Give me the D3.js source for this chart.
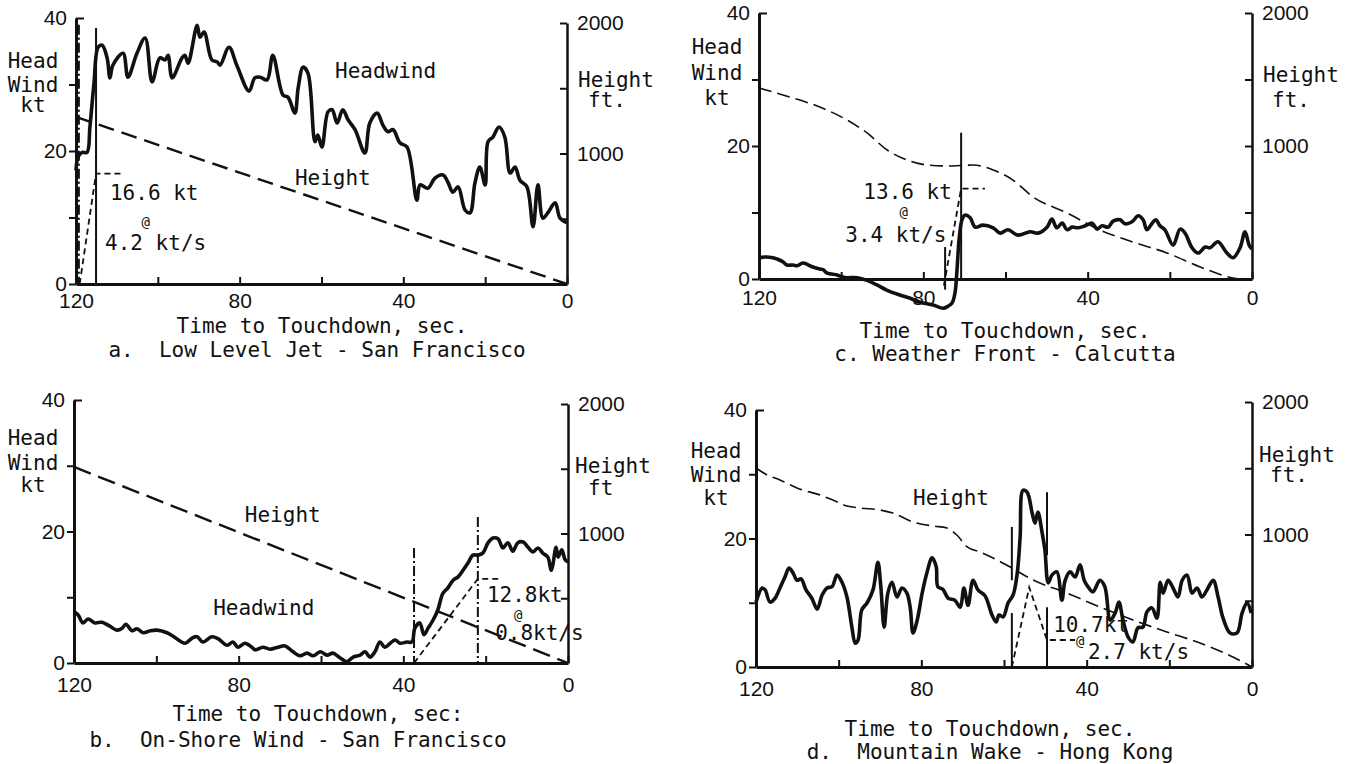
<!DOCTYPE html>
<html>
<head>
<meta charset="utf-8">
<script src="https://cdn.jsdelivr.net/npm/d3@7"></script>
<style>
    body { margin: 0; background: #fff; }
    svg { display: block; font-family: "DejaVu Sans Mono", monospace; }
    text { fill: #111; font-size: 21px; }
    text.at { font-size: 14px; }
    .axis path, .axis line { stroke: #111; }
    .axis path { stroke-width: 3; }
    .axis line { stroke-width: 2; }
</style>
</head>
<body>
<svg id="chart" width="1349" height="764"></svg>
<script>
// Wind shear cases: headwind (kt) and height (ft) against time to touchdown.

const X_TICKS = [120, 100, 80, 60, 40, 20, 0];
const X_LABELS = [120, 80, 40, 0];
const KT_TICKS = [0, 10, 20, 30, 40];
const KT_LABELS = [0, 20, 40];
const FT_TICKS = [0, 500, 1000, 1500, 2000];
const FT_LABELS = [1000, 2000];

// a. Low Level Jet - San Francisco
const aWindT = [120, 119.5, 118.5, 117.3, 116.6, 115.6, 114.6, 113.6, 112.4, 111.7, 111.0, 108.5, 107.3, 105.1, 103.1, 101.4, 99.5, 98.2, 97.5, 96.5, 94.1, 93.4, 92.6, 90.4, 89.7, 88.7, 86.8, 85.5, 84.8, 82.6, 80.7, 77.7, 76.3, 75.0, 73.3, 71.9, 69.4, 68.2, 66.5, 65.7, 64.5, 63.3, 61.6, 60.9, 59.9, 58.4, 57.4, 56.2, 54.8, 53.5, 51.8, 49.4, 48.2, 46.4, 45.0, 43.8, 42.5, 40.8, 39.1, 36.7, 35.9, 34.0, 32.3, 30.3, 29.1, 27.9, 26.6, 24.9, 23.7, 22.5, 21.3, 20.0, 19.3, 18.1, 16.6, 15.2, 13.9, 12.7, 11.5, 9.8, 8.3, 7.1, 5.9, 4.7, 2.9, 1.7, 0];
const aWindKt = [17.1, 19.1, 19.8, 19.8, 23.6, 30.2, 35.6, 35.9, 34.0, 31.0, 32.9, 34.7, 31.1, 34.7, 37.0, 30.4, 34.0, 33.7, 34.4, 31.0, 34.0, 34.4, 33.2, 38.9, 37.1, 37.9, 33.7, 33.4, 32.9, 35.6, 32.9, 29.0, 31.0, 31.1, 30.7, 34.4, 28.4, 28.1, 25.7, 29.5, 32.6, 31.7, 21.4, 22.4, 20.6, 25.9, 26.2, 24.2, 26.2, 24.7, 23.2, 19.7, 24.2, 25.7, 23.9, 22.9, 23.2, 21.2, 20.6, 12.6, 14.9, 14.4, 15.9, 16.4, 15.3, 13.8, 14.6, 11.1, 10.7, 15.2, 17.6, 14.9, 21.4, 22.1, 23.6, 22.1, 16.7, 17.6, 15.6, 14.6, 8.6, 14.9, 9.9, 10.7, 12.2, 9.9, 9.2];
const aHeightT = [120, 0];
const aHeightFt = [1280, 0];
const aMarkT = [119.3, 115.1];
const aMarkTop = [39, 38.5];
const aMarkBot = [0, 0];
const aRampT = [119.1, 115.1, 109];
const aRampKt = [0, 16.6, 16.6];
const aNotes = ["16.6 kt", "@", "4.2 kt/s", "Headwind", "Height"];
const aNoteT = [111.7, 104.0, 112.9, 56.7, 66.5];
const aNoteKt = [12.6, 8.6, 5.1, 31, 14.9];

// b. On-Shore Wind - San Francisco
const bWindT = [120, 119.0, 117.8, 116.6, 114.9, 113.2, 111.3, 109.6, 108.3, 107.4, 105.9, 104.7, 103.2, 101.5, 99.8, 97.4, 96.0, 93.0, 91.3, 90.1, 88.7, 86.5, 85.0, 82.8, 81.4, 80.2, 78.5, 76.8, 76.0, 74.1, 72.4, 70.4, 68.7, 66.8, 65.1, 63.4, 61.9, 60.2, 58.5, 57.1, 55.4, 53.7, 52.2, 50.5, 49.3, 48.1, 46.9, 45.7, 44.5, 43.2, 42.0, 40.8, 39.1, 37.9, 37.2, 36.0, 35.0, 34.0, 32.8, 31.6, 30.4, 29.2, 27.9, 26.7, 25.5, 24.3, 23.1, 21.9, 20.7, 19.4, 18.2, 17.0, 15.8, 14.6, 13.4, 12.2, 10.9, 9.7, 8.5, 7.3, 6.1, 4.9, 4.1, 3.7, 2.9, 2.4, 1.5, 0.7, 0];
const bWindKt = [7.8, 7.3, 6.1, 6.7, 6.1, 6.2, 5.6, 5.0, 5.3, 5.9, 4.9, 5.2, 4.6, 4.9, 5.0, 4.6, 4.1, 3.0, 3.8, 4.0, 3.2, 4.0, 3.7, 2.7, 3.2, 2.4, 3.0, 2.4, 2.0, 2.4, 2.1, 2.4, 2.6, 1.7, 1.1, 1.5, 1.1, 1.7, 1.2, 1.5, 0.8, 0.2, 0.9, 1.2, 1.7, 0.9, 1.7, 3.2, 2.4, 3.0, 3.5, 3.0, 3.2, 3.2, 5.3, 6.1, 4.3, 5.3, 6.5, 8.1, 10.6, 11.4, 12.6, 13.1, 14.1, 15.2, 16.4, 16.4, 16.7, 18.3, 19.0, 18.9, 17.5, 18.3, 17.0, 18.3, 18.4, 17.6, 16.9, 17.5, 16.7, 16.1, 14.1, 14.9, 17.6, 16.1, 17.2, 15.7, 15.4];
const bHeightT = [120, 0];
const bHeightFt = [1514, 0];
const bMarkT = [37.4, 21.9];
const bMarkTop = [17.5, 22.2];
const bMarkBot = [0, 0];
const bRampT = [37.4, 21.9, 16.0];
const bRampKt = [0, 12.8, 12.8];
const bNotes = ["12.8kt", "@", "0.8kt/s", "Height", "Headwind"];
const bNoteT = [19.7, 13.1, 17.7, 78.5, 86.2];
const bNoteKt = [9.3, 6.6, 3.5, 21.4, 7.3];

// c. Weather Front - Calcutta
const cWindT = [120, 118.5, 116.6, 115.6, 114.2, 113.2, 111.7, 110.7, 109.3, 106.9, 105.2, 104.4, 103.4, 101.0, 99.6, 98.6, 96.1, 93.7, 91.3, 88.8, 85.7, 83.2, 80.8, 77.6, 75.2, 74.0, 73.0, 72.3, 71.8, 71.3, 70.6, 69.9, 68.6, 67.4, 65.5, 63.0, 61.3, 59.4, 57.0, 54.0, 52.1, 49.9, 48.7, 47.5, 46.2, 45.0, 43.8, 42.3, 40.6, 38.9, 37.7, 36.5, 35.0, 33.8, 32.1, 30.9, 29.2, 27.7, 26.5, 25.6, 24.3, 23.4, 22.4, 21.2, 19.2, 17.5, 16.3, 14.6, 13.1, 11.4, 10.2, 8.3, 6.1, 4.6, 2.9, 1.7, 0.7, 0];
const cWindKt = [3.2, 3.3, 3.2, 3.0, 2.6, 2.1, 2.1, 2.0, 2.4, 1.8, 1.5, 1.4, 0.9, 0.6, 0.3, 0.2, 0.2, -0.2, -0.9, -1.7, -2.4, -2.9, -3.5, -3.9, -4.4, -4.1, -3.6, -2.1, 1.4, 5.9, 8.9, 9.6, 9.2, 7.8, 8.1, 7.7, 6.9, 7.4, 6.6, 7.1, 6.9, 7.8, 9.0, 7.7, 8.4, 7.4, 7.8, 7.7, 8.0, 8.4, 7.5, 8.0, 7.8, 8.7, 8.9, 8.3, 8.6, 9.5, 8.9, 7.4, 8.4, 8.9, 8.0, 7.4, 5.1, 7.5, 6.9, 4.7, 3.9, 4.8, 4.7, 5.6, 3.9, 3.2, 4.7, 7.1, 5.1, 4.5];
const cHeightT = [120, 112.5, 105.2, 98.6, 93.7, 88.8, 84.0, 79.1, 74.2, 67.9, 63.0, 58.2, 53.3, 45.0, 37.0, 29.0, 20.7, 12.6, 4.6, 2.9];
const cHeightFt = [1436, 1368, 1293, 1196, 1098, 970, 895, 857, 850, 857, 820, 744, 617, 496, 368, 278, 196, 90, 8, 0];
const cMarkT = [70.8, 74.7];
const cMarkTop = [22, 4.8];
const cMarkBot = [0, -1.6];
const cRampT = [75, 70.8, 65];
const cRampKt = [-1, 13.6, 13.6];
const cNotes = ["13.6 kt", "@", "3.4 kt/s"];
const cNoteT = [94.6, 85.8, 99.0];
const cNoteKt = [12.0, 9.3, 5.6];

// d. Mountain Wake - Hong Kong
const dWindT = [120, 118.5, 117.8, 116.6, 115.4, 114.2, 113.0, 112.0, 111.0, 110.1, 109.1, 107.9, 106.5, 105.2, 104.0, 102.8, 101.6, 100.4, 99.2, 98.0, 96.8, 96.0, 95.3, 94.4, 93.1, 91.7, 90.5, 89.8, 89.0, 88.1, 87.1, 85.9, 84.7, 83.5, 82.7, 82.0, 81.0, 79.8, 78.6, 77.4, 76.4, 76.0, 74.8, 73.5, 71.9, 70.6, 69.7, 68.7, 67.5, 66.3, 64.6, 62.9, 61.9, 61.2, 60.2, 59.0, 57.8, 56.8, 56.1, 55.4, 54.4, 53.2, 52.5, 51.8, 50.8, 50.1, 49.3, 48.4, 47.2, 46.0, 45.2, 44.0, 42.8, 41.6, 40.6, 39.7, 38.5, 36.8, 35.6, 34.3, 33.1, 32.2, 31.2, 30.0, 28.8, 27.6, 26.4, 25.4, 24.2, 23.0, 22.2, 21.5, 20.3, 19.1, 17.9, 16.9, 15.7, 14.5, 13.3, 12.1, 10.9, 9.4, 8.2, 7.0, 5.3, 3.6, 2.4, 1.2, 0.2];
const dWindKt = [10.1, 12.3, 12.0, 10.1, 10.7, 12.3, 14.0, 15.4, 14.6, 13.5, 13.7, 12.0, 10.7, 9.0, 11.2, 12.3, 12.5, 14.3, 13.2, 10.9, 6.2, 3.7, 4.2, 8.9, 10.0, 12.0, 16.3, 12.5, 6.2, 11.5, 13.2, 10.9, 12.3, 11.5, 9.3, 5.3, 7.3, 11.5, 14.8, 17.0, 15.6, 12.5, 12.1, 10.7, 10.4, 9.3, 12.3, 9.6, 13.5, 12.0, 11.1, 8.1, 7.0, 8.1, 7.8, 10.0, 11.2, 14.6, 20.2, 27.5, 27.2, 24.0, 22.4, 24.1, 21.0, 18.2, 13.1, 14.3, 14.8, 10.4, 13.5, 14.8, 14.0, 15.9, 13.5, 12.5, 11.7, 13.5, 12.5, 7.3, 8.4, 10.1, 7.3, 4.7, 3.9, 6.1, 6.2, 8.6, 9.2, 7.6, 13.2, 11.5, 13.5, 12.3, 10.9, 13.5, 14.3, 11.5, 12.3, 10.9, 12.0, 13.5, 10.9, 7.6, 5.3, 5.3, 8.4, 10.0, 8.4];
const dHeightT = [120, 117.3, 114.2, 110.1, 104.5, 101.4, 98.0, 94.8, 90.0, 86.9, 82.0, 77.2, 73.8, 71.4, 68.9, 65.8, 61.7, 58.1, 53.0, 44.8, 36.8, 28.8, 20.6, 12.6, 4.6, 0];
const dHeightFt = [1502, 1449, 1411, 1351, 1298, 1260, 1215, 1200, 1185, 1162, 1094, 1064, 1049, 996, 906, 868, 808, 747, 657, 558, 453, 355, 264, 181, 75, 0];
const dMarkT = [58.1, 58.1, 49.6, 49.6];
const dMarkTop = [21.8, 8.4, 27.2, 9.3];
const dMarkBot = [13.5, 0, 17.4, 0];
const dRampT = [58.1, 53.9, 49.6, 42.8];
const dRampKt = [0, 12.4, 4.2, 4.2];
const dNotes = ["10.7kt", "@", "2.7 kt/s", "Height"];
const dNoteT = [48.1, 42.6, 39.7, 82.0];
const dNoteKt = [5.5, 3.3, 1.3, 25.2];

const X_TITLES = ["Time to Touchdown, sec.", "Time to Touchdown, sec:", "Time to Touchdown, sec.", "Time to Touchdown, sec."];
const CAPTIONS = ["a.  Low Level Jet - San Francisco", "b.  On-Shore Wind - San Francisco",
                  "c. Weather Front - Calcutta", "d.  Mountain Wake - Hong Kong"];
const Y_TITLE = ["Head", "Wind", "kt"];
const FT_TITLES = [["Height", "ft."], ["Height", "ft"], ["Height", "ft."], ["Height", "ft."]];

const DASHDOT = "10,3,2,3";

const panels = [
    {
        left: 76, right: 567, top: 18, bottom: 284, ftTop: 23, pad: 9,
        windT: aWindT, windKt: aWindKt, hT: aHeightT, hFt: aHeightFt,
        hCurve: d3.curveLinear, hDash: "16,8", hWidth: 2.4,
        markT: aMarkT, markTop: aMarkTop, markBot: aMarkBot, markDash: [DASHDOT, null],
        rampT: aRampT, rampKt: aRampKt, notes: aNotes, noteT: aNoteT, noteKt: aNoteKt,
        yTitleX: 33, yTitleY: [68, 92, 112], ftTitleX: [578, 588], ftTitleY: [87, 107],
        xTitle: [322, 333], caption: [317, 357],
    },
    {
        left: 74, right: 568, top: 400, bottom: 663, ftTop: 404, pad: 14,
        windT: bWindT, windKt: bWindKt, hT: bHeightT, hFt: bHeightFt,
        hCurve: d3.curveLinear, hDash: "18,8", hWidth: 2.4,
        markT: bMarkT, markTop: bMarkTop, markBot: bMarkBot, markDash: [DASHDOT, DASHDOT],
        rampT: bRampT, rampKt: bRampKt, notes: bNotes, noteT: bNoteT, noteKt: bNoteKt,
        yTitleX: 33, yTitleY: [445, 470, 492], ftTitleX: [575, 588], ftTitleY: [473, 495],
        xTitle: [318, 721], caption: [298, 747],
    },
    {
        left: 759, right: 1252, top: 13, bottom: 279, ftTop: 13, pad: 11,
        windT: cWindT, windKt: cWindKt, hT: cHeightT, hFt: cHeightFt,
        hCurve: d3.curveMonotoneX, hDash: "13,6", hWidth: 1.6,
        markT: cMarkT, markTop: cMarkTop, markBot: cMarkBot, markDash: [null, null],
        rampT: cRampT, rampKt: cRampKt, notes: cNotes, noteT: cNoteT, noteKt: cNoteKt,
        yTitleX: 717, yTitleY: [54, 80, 105], ftTitleX: [1263, 1272], ftTitleY: [82, 107],
        xTitle: [1005, 338], caption: [1005, 361],
    },
    {
        left: 756, right: 1252, top: 410, bottom: 667, ftTop: 402, pad: 14,
        windT: dWindT, windKt: dWindKt, hT: dHeightT, hFt: dHeightFt,
        hCurve: d3.curveMonotoneX, hDash: "13,6", hWidth: 1.6,
        markT: dMarkT, markTop: dMarkTop, markBot: dMarkBot, markDash: [null, null, null, null],
        rampT: dRampT, rampKt: dRampKt, notes: dNotes, noteT: dNoteT, noteKt: dNoteKt,
        yTitleX: 716, yTitleY: [458, 482, 505], ftTitleX: [1259, 1270], ftTitleY: [462, 482],
        xTitle: [990, 736], caption: [990, 759],
    },
];

const svg = d3.select("#chart");

panels.forEach((p, idx) => {
    const g = svg.append("g");

    const x = d3.scaleLinear().domain([120, 0]).range([p.left, p.right]);
    const y = d3.scaleLinear().domain([0, 40]).range([p.bottom, p.top]);
    const yFt = d3.scaleLinear().domain([0, 2000]).range([p.bottom, p.ftTop]);

    // Axes
    const yAxis = g.append("g")
        .attr("class", "axis")
        .attr("transform", `translate(${p.left},0)`)
        .call(
            d3.axisLeft(y)
                .tickValues(KT_TICKS)
                .tickFormat((v) => (KT_LABELS.includes(v) ? v : ""))
                .tickSize(7)
                .tickSizeOuter(0)
                .tickPadding(2),
        );
    // top tick turns inward
    yAxis.selectAll(".tick").filter((v) => v === 40).select("line").attr("x2", 8);

    g.append("g")
        .attr("class", "axis")
        .attr("transform", `translate(${p.right},0)`)
        .call(
            d3.axisRight(yFt)
                .tickValues(FT_TICKS)
                .tickFormat((v) => (FT_LABELS.includes(v) ? v : ""))
                .tickSize(-7)
                .tickSizeOuter(0)
                .tickPadding(10),
        )
        .select(".domain").style("stroke-width", 2.5);

    g.append("g")
        .attr("class", "axis")
        .attr("transform", `translate(0,${p.bottom})`)
        .call(
            d3.axisBottom(x)
                .tickValues(X_TICKS)
                .tickFormat((v) => (X_LABELS.includes(v) ? v : ""))
                .tickSize(-7)
                .tickSizeOuter(0)
                .tickPadding(p.pad),
        );

    // Height (dashed)
    const hLine = d3.line()
        .x((d) => x(d[0]))
        .y((d) => yFt(d[1]))
        .curve(p.hCurve);
    g.append("path")
        .datum(d3.zip(p.hT, p.hFt))
        .attr("d", hLine)
        .attr("fill", "none")
        .attr("stroke", "#111")
        .attr("stroke-width", p.hWidth)
        .attr("stroke-dasharray", p.hDash);

    // Headwind (thick solid)
    const wLine = d3.line()
        .x((d) => x(d[0]))
        .y((d) => y(d[1]))
        .curve(d3.curveCatmullRom.alpha(0.5));
    g.append("path")
        .datum(d3.zip(p.windT, p.windKt))
        .attr("d", wLine)
        .attr("fill", "none")
        .attr("stroke", "#111")
        .attr("stroke-width", 3.6)
        .attr("stroke-linejoin", "round");

    // Shear markers
    p.markT.forEach((t, i) => {
        g.append("line")
            .attr("x1", x(t)).attr("x2", x(t))
            .attr("y1", y(p.markTop[i])).attr("y2", y(p.markBot[i]))
            .attr("stroke", "#111")
            .attr("stroke-width", 2)
            .attr("stroke-dasharray", p.markDash[i]);
    });

    // Ramp (short dashes)
    g.append("path")
        .datum(d3.zip(p.rampT, p.rampKt))
        .attr("d", d3.line().x((d) => x(d[0])).y((d) => y(d[1])))
        .attr("fill", "none")
        .attr("stroke", "#111")
        .attr("stroke-width", 1.8)
        .attr("stroke-dasharray", "6,4");

    // Notes
    p.notes.forEach((s, i) => {
        g.append("text")
            .attr("class", s === "@" ? "at" : null)
            .attr("x", x(p.noteT[i]))
            .attr("y", y(p.noteKt[i]))
            .text(s);
    });

    // Titles
    Y_TITLE.forEach((s, i) => {
        g.append("text")
            .attr("x", p.yTitleX)
            .attr("y", p.yTitleY[i])
            .attr("text-anchor", "middle")
            .text(s);
    });
    FT_TITLES[idx].forEach((s, i) => {
        g.append("text")
            .attr("x", p.ftTitleX[i])
            .attr("y", p.ftTitleY[i])
            .text(s);
    });
    g.append("text")
        .attr("x", p.xTitle[0])
        .attr("y", p.xTitle[1])
        .attr("text-anchor", "middle")
        .text(X_TITLES[idx]);
    g.append("text")
        .attr("x", p.caption[0])
        .attr("y", p.caption[1])
        .attr("text-anchor", "middle")
        .attr("xml:space", "preserve")
        .style("white-space", "pre")
        .text(CAPTIONS[idx]);
});
</script>
</body>
</html>
